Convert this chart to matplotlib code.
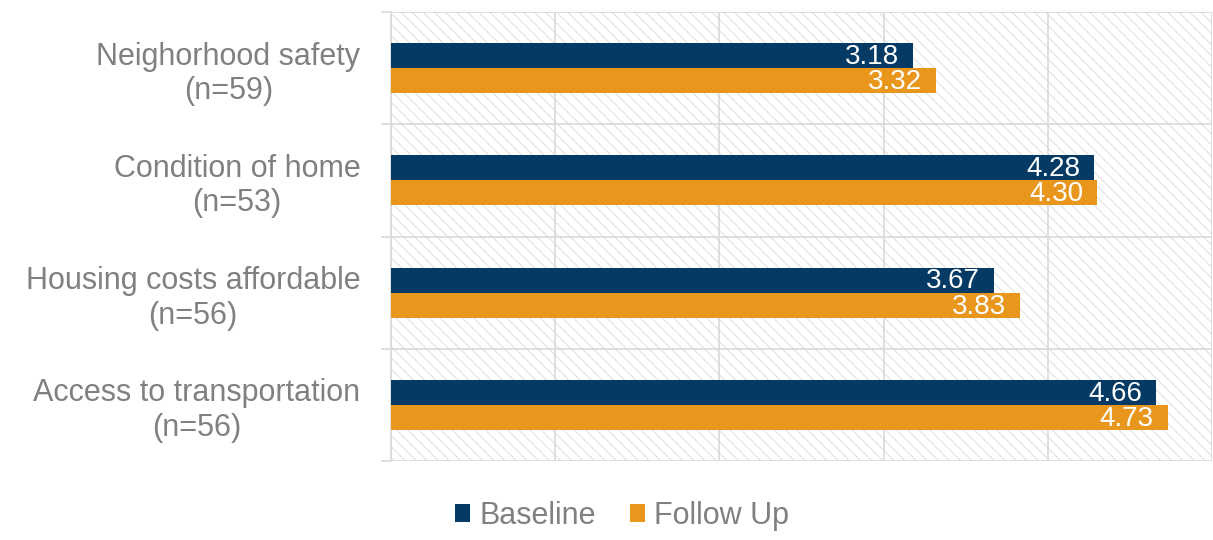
import matplotlib
matplotlib.use("Agg")
import matplotlib.pyplot as plt
from matplotlib.patches import Rectangle
import numpy as np

plt.rcParams['font.family'] = ['Liberation Sans', 'DejaVu Sans']
plt.rcParams['hatch.linewidth'] = 0.6

categories = [
    "Neighorhood safety\n(n=59)",
    "Condition of home\n(n=53)",
    "Housing costs affordable\n(n=56)",
    "Access to transportation\n(n=56)",
]
baseline = [3.18, 4.28, 3.67, 4.66]
follow_up = [3.32, 4.30, 3.83, 4.73]
series_names = ["Baseline", "Follow Up"]

navy = "#043a63"
orange = "#e9961d"
grid_gray = "#d9d9d9"
text_gray = "#808080"

fig = plt.figure(figsize=(12.13, 5.40), dpi=100)
ax = fig.add_axes([391 / 1213, 1 - 461 / 540, 821 / 1213, 449 / 540])

# hatched plot-area background
bg = Rectangle((0, 0), 1, 1, transform=ax.transAxes, facecolor="white",
               edgecolor="#d8d8d8", hatch="\\\\\\", linewidth=0, zorder=0)
ax.add_patch(bg)

y = np.arange(len(categories))
h = 0.223
b1 = ax.barh(y - h / 2, baseline, height=h, color=navy, zorder=3,
             label=series_names[0])
b2 = ax.barh(y + h / 2, follow_up, height=h, color=orange, zorder=3,
             label=series_names[1])

for bars, vals in ((b1, baseline), (b2, follow_up)):
    for rect, v in zip(bars, vals):
        ax.annotate(f"{v:.2f}", (v, rect.get_y() + rect.get_height() / 2),
                    xytext=(-10, -1), textcoords="offset points",
                    ha="right", va="center", color="white", fontsize=20,
                    zorder=4)

ax.set_xlim(0, 5)
ax.set_ylim(len(categories) - 0.5, -0.5)

ax.set_xticks(np.arange(0, 6, 1))
ax.xaxis.grid(True, color=grid_gray, linewidth=1.2, zorder=1)
ax.tick_params(axis="x", length=0, labelbottom=False)

ax.set_yticks(y)
ax.set_yticklabels(categories, fontsize=22, color=text_gray,
                   multialignment="center", linespacing=1.2)
ax.tick_params(axis="y", which="major", length=0, pad=22)
ax.set_yticks(np.arange(-0.5, len(categories), 1), minor=True)
ax.tick_params(axis="y", which="minor", length=7, width=1.2, color=grid_gray,
               direction="out")
ax.yaxis.grid(True, which="minor", color=grid_gray, linewidth=1.2, zorder=1)
ax.set_axisbelow(True)

for side in ("top", "right", "bottom"):
    ax.spines[side].set_visible(False)
ax.spines["left"].set_color(grid_gray)
ax.spines["left"].set_linewidth(1.2)

fig.legend(handles=[b1, b2], labels=series_names, loc="center",
           bbox_to_anchor=(622 / 1213, 1 - 516 / 540), ncol=2, frameon=False,
           fontsize=22, labelcolor=text_gray, handlelength=0.5,
           handleheight=0.5, handletextpad=0.3, columnspacing=1.1)

fig.savefig("out.png", dpi=100)
